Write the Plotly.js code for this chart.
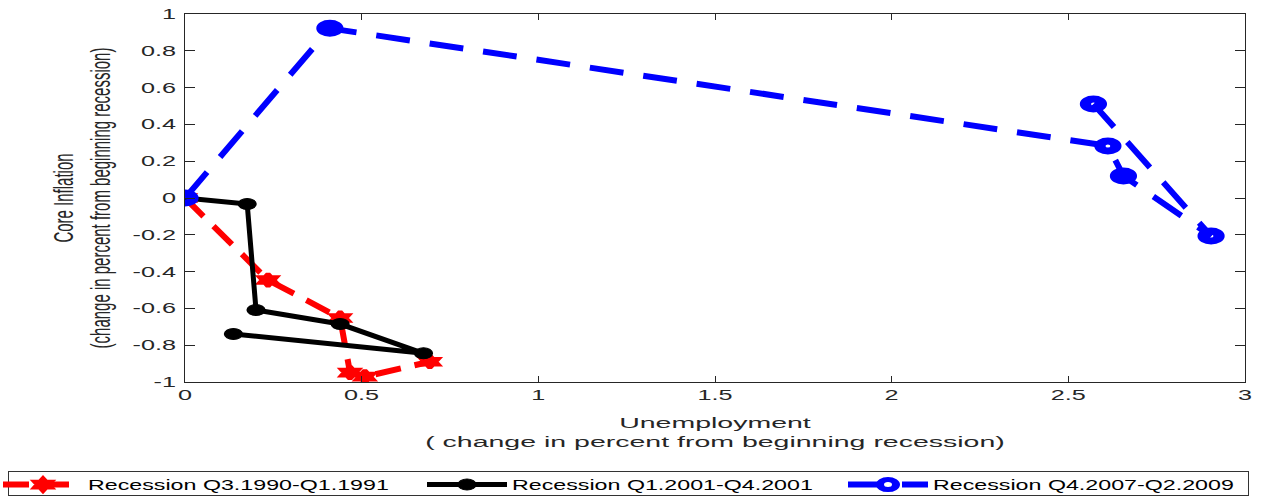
<!DOCTYPE html>
<html>
<head>
<meta charset="utf-8">
<script src="https://cdn.plot.ly/plotly-3.0.1.min.js"></script>
<style>
html,body{margin:0;padding:0;background:#fff;}
#chart{width:1261px;height:497px;}
</style>
</head>
<body>
<div id="chart"></div>
<script>
// ---- data ----
const seriesNames = ["Recession Q3.1990-Q1.1991", "Recession Q1.2001-Q4.2001", "Recession Q4.2007-Q2.2009"];

const unemp1990 = [0, 0.235, 0.439, 0.467, 0.509, 0.693];
const infl1990  = [0, -0.446, -0.652, -0.949, -0.971, -0.890];

const unemp2001 = [0, 0.176, 0.201, 0.439, 0.675, 0.137];
const infl2001  = [0, -0.033, -0.609, -0.685, -0.844, -0.739];

const unemp2007 = [0, 0.410, 2.612, 2.656, 2.904, 2.571];
const infl2007  = [0, 0.922, 0.283, 0.120, -0.207, 0.511];

const xTickVals = [0, 0.5, 1, 1.5, 2, 2.5, 3];
const xTickText = ["0", "0.5", "1", "1.5", "2", "2.5", "3"];
const yTickVals = [-1, -0.8, -0.6, -0.4, -0.2, 0, 0.2, 0.4, 0.6, 0.8, 1];
const yTickText = ["-1", "-0.8", "-0.6", "-0.4", "-0.2", "0", "0.2", "0.4", "0.6", "0.8", "1"];

const FONT = "Liberation Sans, Arial, Helvetica, sans-serif";
const AX = "#262626";

const traces = [
  {
    x: unemp1990, y: infl1990, name: seriesNames[0], type: "scatter", mode: "lines+markers",
    line: {color: "#ff0000", width: 6, dash: "26px,14px"},
    marker: {symbol: "hexagram", size: 10, color: "#ff0000", line: {color: "#ff0000", width: 3}}
  },
  {
    x: unemp2001, y: infl2001, name: seriesNames[1], type: "scatter", mode: "lines+markers",
    line: {color: "#000000", width: 5},
    marker: {symbol: "circle", size: 11, color: "#000000", line: {color: "#000000", width: 1}}
  },
  {
    x: unemp2007, y: infl2007, name: seriesNames[2], type: "scatter", mode: "lines+markers",
    line: {color: "#0000ff", width: 6, dash: "34px,20px"},
    marker: {symbol: "circle-open", size: 10, color: "#0000ff", line: {color: "#0000ff", width: 7}}
  }
];

const layout = {
  width: 1261, height: 497,
  margin: {l: 185, r: 16, t: 14, b: 115, pad: 0},
  paper_bgcolor: "#ffffff", plot_bgcolor: "#ffffff",
  font: {family: FONT, color: AX, size: 14},
  showlegend: true,
  xaxis: {
    range: [0, 3], tickmode: "array", tickvals: xTickVals, ticktext: xTickText,
    ticks: "inside", ticklen: 6, tickwidth: 1, tickcolor: AX,
    showline: true, linecolor: AX, linewidth: 1, mirror: "ticks",
    showgrid: false, zeroline: false,
    tickfont: {family: FONT, size: 14, color: AX},
    title: {text: "Unemployment<br>( change in percent from beginning recession)", font: {family: FONT, size: 15, color: AX}, standoff: 15}
  },
  yaxis: {
    range: [-1, 1], tickmode: "array", tickvals: yTickVals, ticktext: yTickText,
    ticks: "inside", ticklen: 10, tickwidth: 1, tickcolor: AX,
    showline: true, linecolor: AX, linewidth: 1, mirror: "ticks",
    showgrid: false, zeroline: false, ticklabelstandoff: 5,
    tickfont: {family: FONT, size: 14, color: AX},
    title: {text: "Core Inflation<br>(change in percent from beginning recession)", font: {family: FONT, size: 15, color: AX}, standoff: 51}
  },
  legend: {
    orientation: "h", xref: "container", yref: "container",
    x: 8 / 1261, xanchor: "left", y: 1 - 471 / 497, yanchor: "top",
    bordercolor: "#333333", borderwidth: 1, bgcolor: "#ffffff",
    font: {family: FONT, size: 14, color: "#000000"},
    itemwidth: 80, entrywidth: 230, entrywidthmode: "pixels",
    traceorder: "normal", valign: "middle"
  }
};

// legend text left edges and box right edge, as seen in the reference
const legendTextLeft = [88, 512, 933];
const legendRight = 1248;
const legendBoxHeight = 24;
const legendRowShift = -3;

function stretchText(gd, sel, s) {
  gd.querySelectorAll(sel).forEach(function (el) {
    const r = el.getBoundingClientRect();
    const anchor = el.getAttribute("text-anchor") || "start";
    const px = anchor === "end" ? r.right : (anchor === "middle" ? (r.left + r.right) / 2 : r.left);
    const m = el.parentNode.getScreenCTM();
    const p = (px - m.e) / m.a;
    const t = el.getAttribute("transform") || "";
    el.setAttribute("transform", "translate(" + p + ",0) scale(" + s + ",1) translate(" + (-p) + ",0) " + t);
  });
}
function stretchMarkers(gd, sel, s) {
  gd.querySelectorAll(sel).forEach(function (el) {
    const t = el.getAttribute("transform") || "";
    el.setAttribute("transform", t + " scale(" + s + ",1)");
  });
}
function spreadLegend(gd) {
  const leg = gd.querySelector("g.legend");
  if (!leg) return;
  const items = leg.querySelectorAll("g.traces");
  items.forEach(function (item, i) {
    const txt = item.querySelector(".legendtext");
    if (!txt || legendTextLeft[i] === undefined) return;
    const dx = legendTextLeft[i] - txt.getBoundingClientRect().left;
    const t = item.getAttribute("transform") || "translate(0,0)";
    const mm = /translate\(\s*([-\d.e]+)[ ,]+([-\d.e]+)\s*\)/.exec(t);
    const x0 = mm ? parseFloat(mm[1]) : 0, y0 = mm ? parseFloat(mm[2]) : 0;
    item.setAttribute("transform", "translate(" + (x0 + dx) + "," + (y0 + legendRowShift) + ")");
  });
  const bg = leg.querySelector("rect.bg");
  if (bg) {
    const left = bg.getBoundingClientRect().left;
    bg.setAttribute("width", legendRight - left);
    bg.setAttribute("height", legendBoxHeight);
  }
  gd.querySelectorAll("clipPath[id^='legend'] rect").forEach(function (r) {
    r.setAttribute("width", 1300);
  });
  const sb = leg.querySelector(".scrollbox");
  if (sb) sb.removeAttribute("clip-path");
}

const gd = document.getElementById("chart");
Plotly.newPlot(gd, traces, layout, {displayModeBar: false, responsive: false, staticPlot: true}).then(function () {
  spreadLegend(gd);
  stretchText(gd, ".xtick text", 1.8);
  stretchText(gd, ".ytick text", 1.8);
  stretchText(gd, ".g-xtitle text", 1.9);
  stretchText(gd, ".g-ytitle text", 1.9);
  stretchText(gd, ".legendtext", 1.66);
  stretchMarkers(gd, ".scatterlayer .points path", 1.6);
  stretchMarkers(gd, ".legendpoints path.scatterpts", 1.6);
});
</script>
</body>
</html>
